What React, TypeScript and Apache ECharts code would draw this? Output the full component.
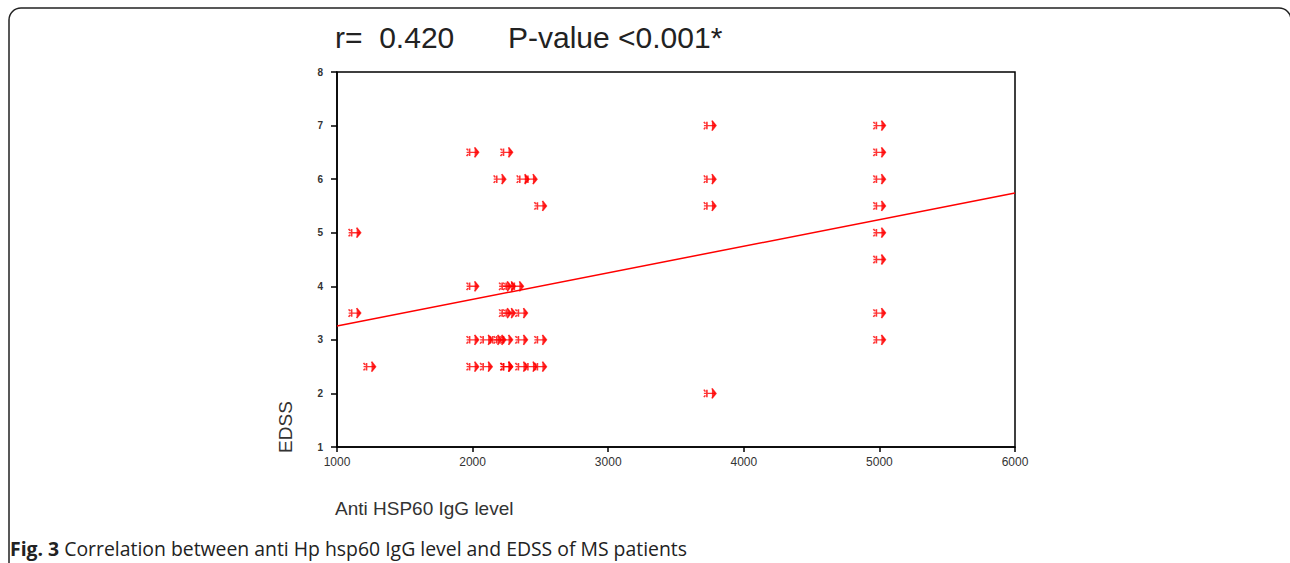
import React, { useEffect, useRef } from "react";
import * as echarts from "echarts";

const xValues = [
  1130, 1130, 1240,
  2000, 2000, 2000, 2000,
  2100, 2100,
  2170,
  2200, 2200,
  2250, 2250, 2250, 2250,
  2240, 2270, 2240, 2270,
  2330, 2360, 2360, 2360,
  2370, 2430, 2430,
  2500, 2500, 2500,
  3750, 3750, 3750, 3750,
  5000, 5000, 5000, 5000, 5000, 5000, 5000, 5000,
];
const yValues = [
  5, 3.5, 2.5,
  6.5, 4, 3, 2.5,
  2.5, 3,
  3,
  6, 3,
  6.5, 3, 2.5, 2.5,
  4, 4, 3.5, 3.5,
  4, 3, 2.5, 3.5,
  6, 6, 2.5,
  5.5, 3, 2.5,
  7, 6, 5.5, 2,
  7, 6.5, 6, 5.5, 5, 4.5, 3.5, 3,
];
const fitX = [1000, 6000];
const fitY = [3.26, 5.74];
const xTicks = { min: 1000, max: 6000, interval: 1000 };
const yTicks = { min: 1, max: 8, interval: 1 };
const titleLeft = "r=  0.420";
const titleRight = "P-value <0.001*";
const xName = "Anti HSP60 IgG level";
const yName = "EDSS";
const captionBold = "Fig. 3";
const captionText = " Correlation between anti Hp hsp60 IgG level and EDSS of MS patients";

const markerPath =
  "path://M0,5 L12,5 M8,1 L12,5 L8,9 M3,2 L3,8 M0,2 L1.5,3.5 M0,8 L1.5,6.5";

export default function App() {
  const ref = useRef<HTMLDivElement>(null);
  useEffect(() => {
    if (!ref.current) return;
    const chart = echarts.init(ref.current, null, { renderer: "svg" });
    const points = xValues.map((x, i) => [x, yValues[i]]);
    const fit = fitX.map((x, i) => [x, fitY[i]]);
    chart.setOption({
      animation: false,
      backgroundColor: "#ffffff",
      grid: {
        left: 337,
        top: 72,
        width: 678,
        height: 375,
        show: true,
        borderColor: "#000",
        borderWidth: 1.5,
        backgroundColor: "transparent",
      },
      xAxis: {
        type: "value",
        ...xTicks,
        axisLine: { lineStyle: { color: "#000", width: 1.5 } },
        axisTick: { show: true, length: 5, lineStyle: { color: "#000", width: 1.5 } },
        splitLine: { show: false },
        axisLabel: {
          color: "#333",
          fontSize: 12,
          fontFamily: "Liberation Sans",
          margin: 9,
          formatter: (v: number) => String(v),
        },
      },
      yAxis: {
        type: "value",
        ...yTicks,
        axisLine: { lineStyle: { color: "#000", width: 1.5 } },
        axisTick: { show: true, length: 6, lineStyle: { color: "#000", width: 1.5 } },
        splitLine: { show: false },
        axisLabel: {
          color: "#333",
          fontSize: 10,
          fontWeight: "bold",
          fontFamily: "Liberation Sans",
          margin: 14,
        },
      },
      series: [
        {
          type: "line",
          data: fit,
          symbol: "none",
          lineStyle: { color: "#ff0000", width: 1.5 },
          silent: true,
          z: 2,
        },
        {
          type: "scatter",
          data: points,
          symbol: markerPath,
          symbolSize: [12, 10],
          itemStyle: {
            color: "#ff0000",
            borderColor: "#ff0000",
            borderWidth: 1.5,
          },
          z: 3,
        },
      ],
      graphic: [
        {
          type: "rect",
          shape: { x: 9, y: 8, width: 1282, height: 620, r: 12 },
          style: { fill: "none", stroke: "#222", lineWidth: 1.5 },
          silent: true,
          z: 0,
        },
        {
          type: "text",
          x: 335,
          y: 37,
          style: {
            text: titleLeft,
            fontSize: 30,
            fontFamily: "Liberation Sans",
            fill: "#222",
            verticalAlign: "middle",
          },
        },
        {
          type: "text",
          x: 508,
          y: 37,
          style: {
            text: titleRight,
            fontSize: 30,
            fontFamily: "Liberation Sans",
            fill: "#222",
            verticalAlign: "middle",
          },
        },
        {
          type: "text",
          x: 285,
          y: 427,
          rotation: Math.PI / 2,
          style: {
            text: yName,
            fontSize: 19,
            fontFamily: "Liberation Sans",
            fill: "#333",
            align: "center",
            verticalAlign: "middle",
          },
        },
        {
          type: "text",
          x: 335,
          y: 508,
          style: {
            text: xName,
            fontSize: 19,
            fontFamily: "Liberation Sans",
            fill: "#333",
            verticalAlign: "middle",
          },
        },
        {
          type: "text",
          x: 10,
          y: 548,
          style: {
            text: "{b|" + captionBold + "}{n|" + captionText + "}",
            verticalAlign: "middle",
            rich: {
              b: { fontSize: 19.4, fontWeight: "bold", fontFamily: "Open Sans", fill: "#222" },
              n: { fontSize: 19.4, fontFamily: "Open Sans", fill: "#222" },
            },
          },
        },
      ],
    });
    return () => chart.dispose();
  }, []);
  return (
    <div
      ref={ref}
      style={{ position: "absolute", left: 0, top: 0, width: 1290, height: 563 }}
    />
  );
}
